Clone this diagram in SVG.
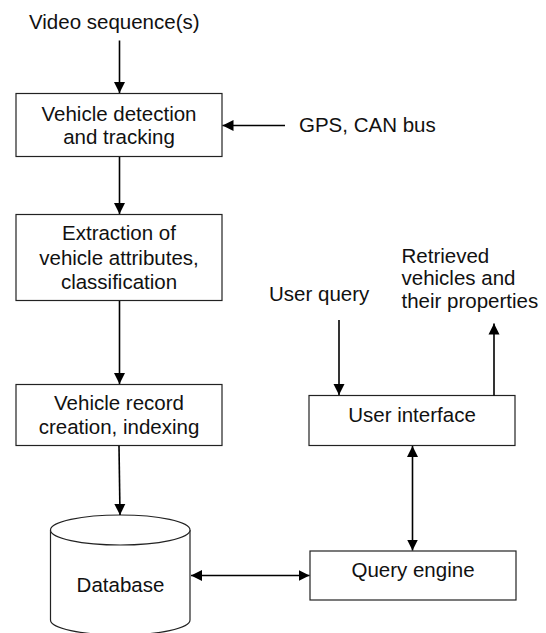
<svg xmlns="http://www.w3.org/2000/svg" width="546" height="633" viewBox="0 0 546 633">
  <defs>
    <style>
      .box { fill: #ffffff; stroke: #222222; stroke-width: 1.2; }
      .lbl { font-family: "Liberation Sans", Arial, sans-serif; font-size: 20.5px; fill: #111111; }
      .mid { text-anchor: middle; }
      .wire { stroke: #000000; stroke-width: 1.6; fill: none; }
    </style>
    <marker id="head" markerUnits="userSpaceOnUse" markerWidth="12" markerHeight="12" viewBox="0 0 12 12" refX="11" refY="6" orient="auto-start-reverse">
      <path d="M0,0.5 L11,6 L0,11.5 Z" fill="#000000"/>
    </marker>
  </defs>
  <rect width="546" height="633" fill="#ffffff"/>

  <!-- free-standing labels -->
  <text class="lbl" x="29" y="29">Video sequence(s)</text>
  <text class="lbl" x="299" y="131.5">GPS, CAN bus</text>
  <text class="lbl" x="269" y="300.5">User query</text>
  <text class="lbl" x="401.5" y="262.5">Retrieved</text>
  <text class="lbl" x="401.5" y="285">vehicles and</text>
  <text class="lbl" x="401.5" y="307.5">their properties</text>

  <g id="detection">
    <rect class="box" x="16" y="93.5" width="206" height="63"/>
    <text class="lbl mid" x="119" y="120.5">Vehicle detection</text>
    <text class="lbl mid" x="119" y="144">and tracking</text>
  </g>

  <g id="extraction">
    <rect class="box" x="16" y="214.5" width="206" height="86"/>
    <text class="lbl mid" x="119" y="240">Extraction of</text>
    <text class="lbl mid" x="119" y="264.5">vehicle attributes,</text>
    <text class="lbl mid" x="119" y="289">classification</text>
  </g>

  <g id="record">
    <rect class="box" x="16" y="384.5" width="206" height="61"/>
    <text class="lbl mid" x="119" y="410">Vehicle record</text>
    <text class="lbl mid" x="119" y="433.5">creation, indexing</text>
  </g>

  <g id="database">
    <path class="box" d="M50.5,530 L50.5,620 A69.75,15 0 0 0 190,620 L190,530 A69.75,15 0 0 0 50.5,530 Z"/>
    <path class="box" d="M50.5,530 A69.75,15 0 0 0 190,530" fill="none"/>
    <text class="lbl mid" x="120.5" y="591.5">Database</text>
  </g>

  <g id="user-interface">
    <rect class="box" x="309" y="395.5" width="206" height="50"/>
    <text class="lbl mid" x="412" y="421.5">User interface</text>
  </g>

  <g id="query-engine">
    <rect class="box" x="310" y="551" width="206" height="49"/>
    <text class="lbl mid" x="413" y="576.5">Query engine</text>
  </g>

  <g id="connectors">
    <line class="wire" x1="119.5" y1="40.5" x2="119.5" y2="93" marker-end="url(#head)"/>
    <line class="wire" x1="285" y1="125.5" x2="222.5" y2="125.5" marker-end="url(#head)"/>
    <line class="wire" x1="119.5" y1="157" x2="119.5" y2="214" marker-end="url(#head)"/>
    <line class="wire" x1="119.5" y1="301" x2="119.5" y2="384" marker-end="url(#head)"/>
    <line class="wire" x1="119" y1="446" x2="120" y2="515" marker-end="url(#head)"/>
    <line class="wire" x1="191" y1="575.5" x2="309.5" y2="575.5" marker-start="url(#head)" marker-end="url(#head)"/>
    <line class="wire" x1="412.5" y1="446" x2="412.5" y2="550.5" marker-start="url(#head)" marker-end="url(#head)"/>
    <line class="wire" x1="339" y1="320" x2="339" y2="395" marker-end="url(#head)"/>
    <line class="wire" x1="494" y1="395.5" x2="494" y2="323.5" marker-end="url(#head)"/>
  </g>
</svg>
